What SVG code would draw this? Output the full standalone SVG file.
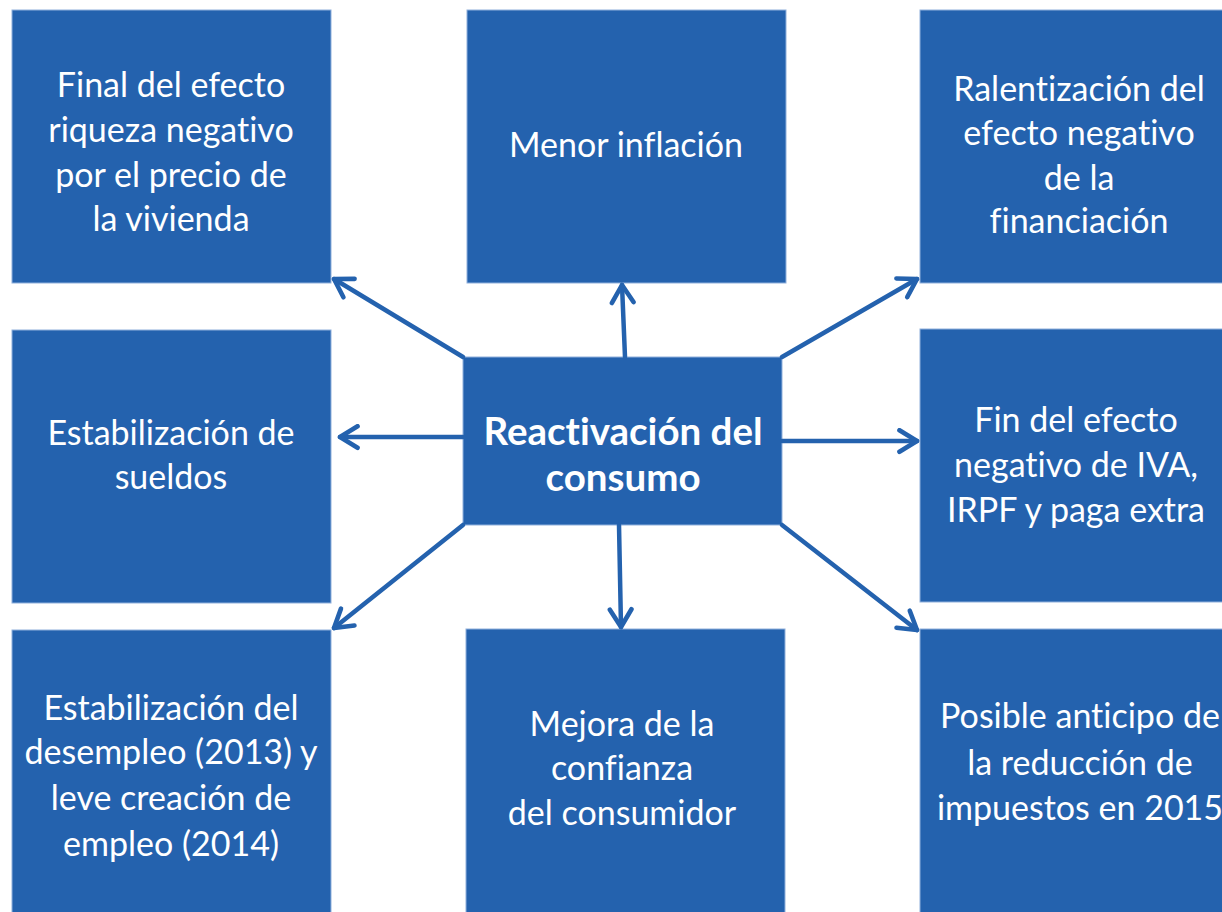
<svg xmlns="http://www.w3.org/2000/svg" width="1222" height="912" viewBox="0 0 1222 912">
<style>
.box{fill:#2462ae;stroke:#8fb0dc;stroke-width:1}
.t{font-family:Lato,"Liberation Sans",sans-serif;font-size:34px;fill:#fff;text-anchor:middle;font-variant-ligatures:none}
.b{font-weight:bold;font-size:38.5px}
.c{stroke:#2462ae;stroke-width:4.5;fill:none;stroke-linecap:round}
</style>
<defs>
<marker id="ah" viewBox="0 0 20 20" refX="17" refY="10" markerWidth="6" markerHeight="6" markerUnits="strokeWidth" orient="auto">
<path d="M4 2 L17 10 L4 18" fill="none" stroke="#2462ae" stroke-width="3.4" stroke-linecap="round" stroke-linejoin="round"/>
</marker>
</defs>
<rect width="1222" height="912" fill="#fff"/>
<g id="n1"><rect class="box" x="12" y="10" width="319" height="273"/>
<text class="t"><tspan x="171" y="97">Final del efecto</tspan><tspan x="171" y="142">riqueza negativo</tspan><tspan x="171" y="187">por el precio de</tspan><tspan x="171" y="231">la vivienda</tspan></text></g>
<g id="n2"><rect class="box" x="467" y="10" width="319" height="273"/>
<text class="t"><tspan x="626" y="157">Menor inflación</tspan></text></g>
<g id="n3"><rect class="box" x="920" y="10" width="320" height="273"/>
<text class="t"><tspan x="1079" y="101">Ralentización del</tspan><tspan x="1079" y="145">efecto negativo</tspan><tspan x="1079" y="190">de la</tspan><tspan x="1079" y="233">financiación</tspan></text></g>
<g id="n4"><rect class="box" x="12" y="330" width="319" height="273"/>
<text class="t"><tspan x="171" y="445">Estabilización de</tspan><tspan x="171" y="489">sueldos</tspan></text></g>
<g id="n5"><rect class="box" x="463" y="357" width="319" height="168"/>
<text class="t b"><tspan x="623" y="445">Reactivación del</tspan><tspan x="623" y="491">consumo</tspan></text></g>
<g id="n6"><rect class="box" x="920" y="329" width="320" height="273"/>
<text class="t"><tspan x="1076" y="432">Fin del efecto</tspan><tspan x="1076" y="477">negativo de IVA,</tspan><tspan x="1076" y="522">IRPF y paga extra</tspan></text></g>
<g id="n7"><rect class="box" x="12" y="630" width="319" height="290"/>
<text class="t"><tspan x="171" y="720">Estabilización del</tspan><tspan x="171" y="764">desempleo (2013) y</tspan><tspan x="171" y="810">leve creación de</tspan><tspan x="171" y="856">empleo (2014)</tspan></text></g>
<g id="n8"><rect class="box" x="466" y="629" width="319" height="290"/>
<text class="t"><tspan x="622" y="736">Mejora de la</tspan><tspan x="622" y="780">confianza</tspan><tspan x="622" y="825">del consumidor</tspan></text></g>
<g id="n9"><rect class="box" x="920" y="629" width="320" height="290"/>
<text class="t"><tspan x="1080" y="728">Posible anticipo de</tspan><tspan x="1080" y="775">la reducción de</tspan><tspan x="1080" y="820">impuestos en 2015</tspan></text></g>
<g id="connectors">
<line class="c" x1="463" y1="357" x2="334" y2="279" marker-end="url(#ah)"/>
<line class="c" x1="625" y1="357" x2="622" y2="285" marker-end="url(#ah)"/>
<line class="c" x1="782" y1="357" x2="917" y2="279" marker-end="url(#ah)"/>
<line class="c" x1="463" y1="437" x2="340" y2="437" marker-end="url(#ah)"/>
<line class="c" x1="782" y1="441" x2="917" y2="441" marker-end="url(#ah)"/>
<line class="c" x1="463" y1="525" x2="334" y2="628" marker-end="url(#ah)"/>
<line class="c" x1="619" y1="525" x2="621" y2="627" marker-end="url(#ah)"/>
<line class="c" x1="782" y1="525" x2="917" y2="630" marker-end="url(#ah)"/>
</g>
</svg>
